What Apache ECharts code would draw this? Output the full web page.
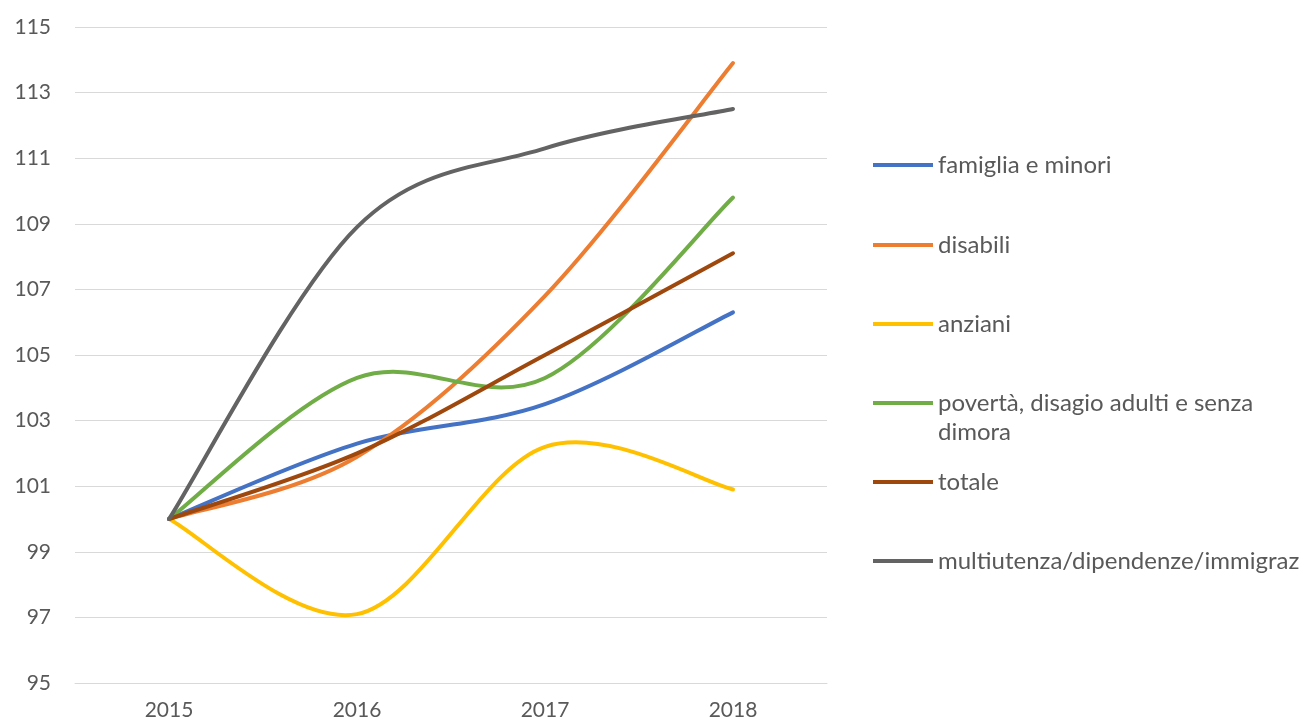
<!DOCTYPE html>
<html><head><meta charset="utf-8">
<script src="https://cdn.jsdelivr.net/npm/echarts@6/dist/echarts.min.js"></script>
<style>html,body{margin:0;padding:0;background:#fff}#c{width:1301px;height:724px}</style>
</head><body><div id="c"></div>
<script>
const categories = ['2015', '2016', '2017', '2018'];
const seriesNames = ['famiglia e minori', 'disabili', 'anziani', 'povertà, disagio adulti e senza dimora', 'totale', 'multiutenza/dipendenze/immigraz'];
const famiglia = [100, 102.3, 103.5, 106.3];
const disabili = [100, 101.9, 106.8, 113.9];
const anziani = [100, 97.1, 102.2, 100.9];
const poverta = [100, 104.3, 104.3, 109.8];
const totale = [100, 102.0, 105.0, 108.1];
const multiutenza = [100, 108.9, 111.3, 112.5];
const yTicks = [95, 97, 99, 101, 103, 105, 107, 109, 111, 113, 115];

const values = [famiglia, disabili, anziani, poverta, totale, multiutenza];
const colors = ['#4472C4', '#ED7D31', '#FFC000', '#70AD47', '#9E480E', '#636363'];
const legendCenters = [165, 245, 324, 403, 482, 561];
const FONT = 'Lato';
const TXT = '#595959';
const LH = 29;

const legends = seriesNames.map((n, i) => {
  const multi = i === 3;
  return {
    orient: 'vertical', left: 873, padding: 0,
    top: multi ? legendCenters[i] - 1.5 * LH : legendCenters[i] - LH / 2,
    data: [n], icon: 'rect', itemWidth: 60, itemHeight: 4, itemGap: 0,
    selectedMode: false,
    formatter: multi ? () => ' \npovertà, disagio adulti e senza\ndimora' : '{name}',
    textStyle: { fontFamily: FONT, fontSize: 24, color: TXT, lineHeight: LH }
  };
});

// Excel-like smoothed line (Catmull-Rom style Bezier) drawn through axis coordinates
function smoothRender(seriesIdx) {
  return function (params, api) {
    if (params.dataIndex !== 0) return null;
    const v = values[seriesIdx];
    const pts = v.map((y, j) => api.coord([j, y]));
    const t = 1 / 6;
    let d = 'M' + pts[0][0] + ' ' + pts[0][1];
    for (let k = 0; k < pts.length - 1; k++) {
      const p0 = pts[Math.max(k - 1, 0)], p1 = pts[k], p2 = pts[k + 1], p3 = pts[Math.min(k + 2, pts.length - 1)];
      const c1 = [p1[0] + (p2[0] - p0[0]) * t, p1[1] + (p2[1] - p0[1]) * t];
      const c2 = [p2[0] - (p3[0] - p1[0]) * t, p2[1] - (p3[1] - p1[1]) * t];
      d += ' C' + c1[0] + ' ' + c1[1] + ' ' + c2[0] + ' ' + c2[1] + ' ' + p2[0] + ' ' + p2[1];
    }
    return {
      type: 'path',
      shape: { pathData: d },
      style: { fill: 'none', stroke: colors[seriesIdx], lineWidth: 4, lineCap: 'round', lineJoin: 'round' }
    };
  };
}

const chart = echarts.init(document.getElementById('c'), null, { renderer: 'canvas' });
chart.setOption({
  animation: false,
  color: colors,
  legend: legends,
  grid: { left: 75, right: 474, top: 27, bottom: 41, containLabel: false },
  xAxis: {
    type: 'category', data: categories, boundaryGap: true,
    axisLine: { show: true, lineStyle: { color: '#D9D9D9', width: 1 } },
    axisTick: { show: false },
    axisLabel: { fontFamily: FONT, fontSize: 21, color: TXT, margin: 17 }
  },
  yAxis: {
    type: 'value', min: yTicks[0], max: yTicks[yTicks.length - 1], interval: 2,
    axisLine: { show: false }, axisTick: { show: false },
    splitLine: { lineStyle: { color: '#D9D9D9', width: 1 } },
    axisLabel: { fontFamily: FONT, fontSize: 21, color: TXT, margin: 24 }
  },
  series: values.map((v, i) => ({
    name: seriesNames[i], type: 'custom', coordinateSystem: 'cartesian2d',
    data: v.map((y, j) => [j, y]),
    encode: { x: 0, y: 1 },
    renderItem: smoothRender(i),
    itemStyle: { color: colors[i] }
  }))
});
</script></body></html>
